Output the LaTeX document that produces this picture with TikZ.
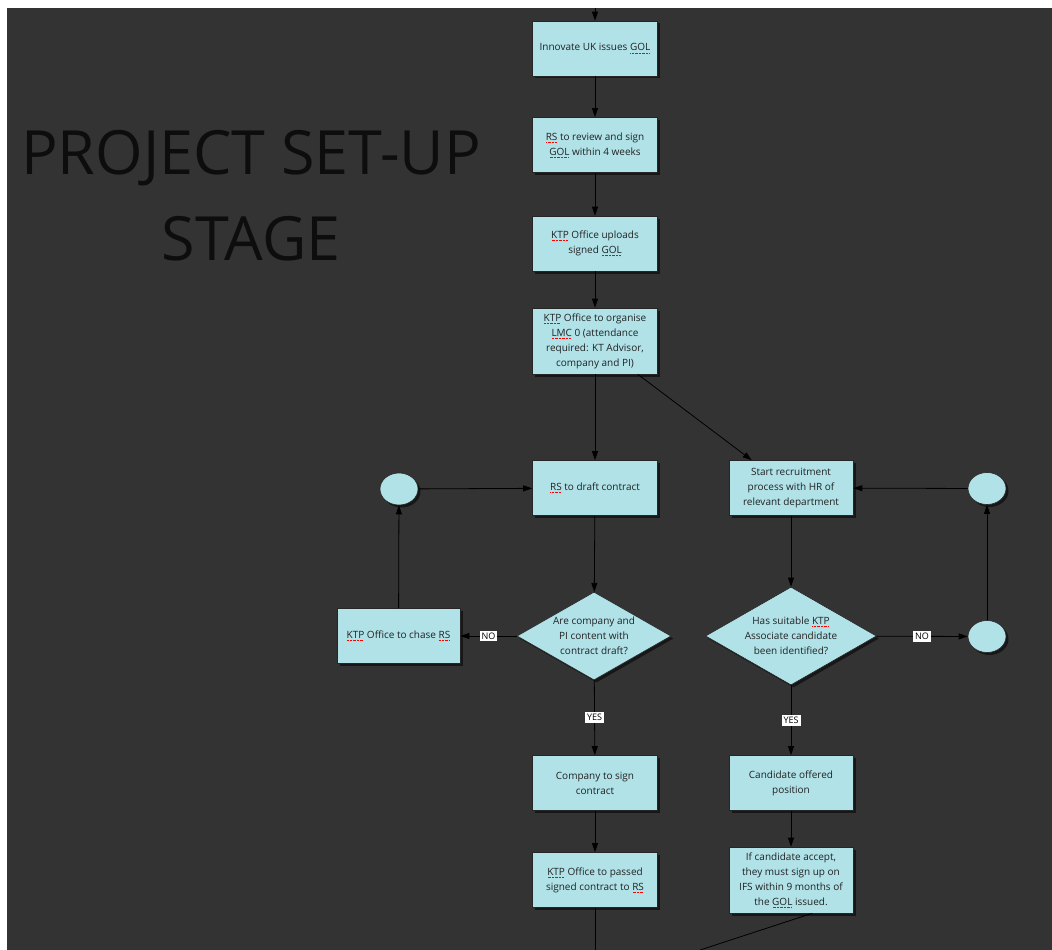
\documentclass[tikz,border=0pt]{standalone}
\usepackage{fontspec}
\setmainfont{Open Sans}
\usetikzlibrary{shapes.geometric,arrows.meta,shadows}
\definecolor{bgdark}{HTML}{333333}
\definecolor{boxfill}{HTML}{B0E2E8}
\definecolor{inkgray}{HTML}{222222}
\newcommand{\spell}[1]{\setbox0\hbox{#1}\rlap{\copy0}\raisebox{-2.4pt}{\color{red}\leaders\hbox to 1.4pt{\hss\rule{0.7pt}{0.7pt}\hss}\hskip\wd0}}

\begin{document}
\begin{tikzpicture}[x=1pt,y=-1pt,>={Triangle[length=9pt,width=6pt]}]
        \tikzstyle{every node} = [font=\fontsize{10}{15}\selectfont, text=inkgray]
        \tikzstyle{stepbox} = [rectangle, draw=black!85, fill=boxfill, line width=0.6pt, minimum width=125pt, minimum height=55pt, inner sep=2pt, align=center, drop shadow={shadow xshift=2.5pt, shadow yshift=-2.5pt, fill=black, opacity=0.55}]
        \tikzstyle{choice} = [diamond, draw=black!85, fill=boxfill, line width=0.6pt, aspect=1.75, inner sep=-5pt, align=center, drop shadow={shadow xshift=2.5pt, shadow yshift=-2.5pt, fill=black, opacity=0.55}]
        \tikzstyle{joint} = [ellipse, draw=black!85, fill=boxfill, line width=0.6pt, minimum width=38pt, minimum height=32pt, inner sep=0pt, drop shadow={shadow xshift=2.5pt, shadow yshift=-2.5pt, fill=black, opacity=0.55}]
        \tikzstyle{tag} = [fill=white, text=black, font=\fontsize{9}{10}\selectfont, inner sep=2pt]
        \tikzstyle{link} = [draw=black, line width=0.8pt]

        \useasboundingbox (0,0) rectangle (1052,950);
        \fill[white] (0,0) rectangle (1052,950);
        \fill[bgdark] (7,8) rectangle (1052,950);

        \node[text=black!95, font=\fontsize{61}{86}\selectfont, align=center, anchor=base] (title) at (251,260) {PROJECT SET-UP\\STAGE};

        \coordinate (entry) at (595,8);
        \node[stepbox] (gol) at (595,48.5) {Innovate UK issues \spell{GOL}};
        \node[stepbox] (review) at (595,145) {\spell{RS} to review and sign\\\spell{GOL} within 4 weeks};
        \node[stepbox] (upload) at (595,243.5) {\spell{KTP} Office uploads\\signed \spell{GOL}};
        \node[stepbox, minimum height=66pt] (lmc) at (595,341) {\spell{KTP} Office to organise\\\spell{LMC} 0 (attendance\\required: KT Advisor,\\company and PI)};

        \node[stepbox] (draft) at (595,488) {\spell{RS} to draft contract};
        \node[joint] (backl) at (399,489) {};
        \node[choice, minimum width=154pt, minimum height=88pt] (content) at (594,636) {Are company and\\PI content with\\contract draft?};
        \node[stepbox, minimum width=123pt] (chase) at (398.5,636) {\spell{KTP} Office to chase \spell{RS}};
        \node[stepbox] (csign) at (595,783) {Company to sign\\contract};
        \node[stepbox] (pass) at (595,880) {\spell{KTP} Office to passed\\signed contract to \spell{RS}};

        \node[stepbox, minimum width=124pt] (recruit) at (791,488) {Start recruitment\\process with HR of\\relevant department};
        \node[joint] (backr) at (987,488.5) {};
        \node[choice, minimum width=171pt, minimum height=98pt] (found) at (791,636) {Has suitable \spell{KTP}\\Associate candidate\\been identified?};
        \node[joint] (noright) at (987,636.5) {};
        \node[stepbox, minimum width=124pt] (offer) at (791,783) {Candidate offered\\position};
        \node[stepbox, minimum width=124pt, minimum height=66pt] (accept) at (791,880) {If candidate accept,\\they must sign up on\\IFS within 9 months of\\the \spell{GOL} issued.};

        \coordinate (outl) at (595,950);
        \coordinate (outr) at (700,950);

        \draw[link,->] (entry) -- (gol);
        \draw[link,->] (gol) -- (review);
        \draw[link,->] (review) -- (upload);
        \draw[link,->] (upload) -- (lmc);
        \draw[link,->] (lmc) -- (draft);
        \draw[link,->] ([xshift=-20pt]lmc.south east) -- ([xshift=23pt]recruit.north west);

        \draw[link,->] (backl) -- (draft);
        \draw[link,->] (draft) -- (content);
        \draw[link,->] (content) -- node[tag] (nol) {NO} (chase);
        \draw[link,->] (chase) -- (backl);
        \draw[link,->] (content) -- node[tag] (yesl) {YES} (csign);
        \draw[link,->] (csign) -- (pass);
        \draw[link] (pass) -- (outl);

        \draw[link,->] (recruit) -- (found);
        \draw[link,->] (found) -- node[tag] (nor) {NO} (noright);
        \draw[link,->] (noright) -- (backr);
        \draw[link,->] (backr) -- (recruit);
        \draw[link,->] (found) -- node[tag] (yesr) {YES} (offer);
        \draw[link,->] (offer) -- (accept);
        \draw[link] ([xshift=-41pt]accept.south east) -- (outr);
\end{tikzpicture}
\end{document}
